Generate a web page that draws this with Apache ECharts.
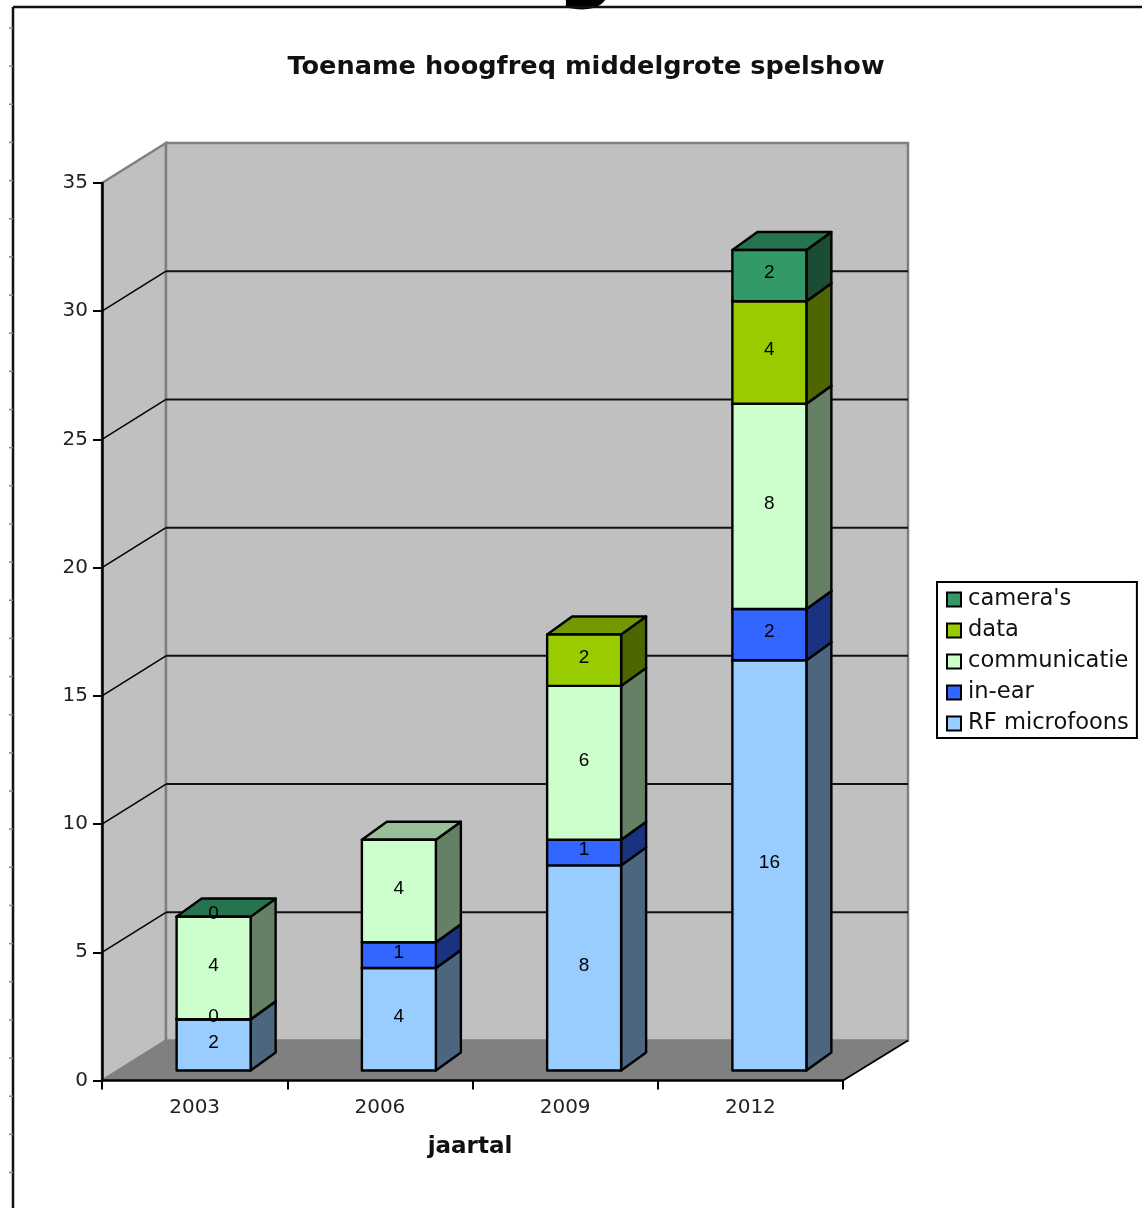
<!DOCTYPE html>
<html>
<head>
<meta charset="utf-8">
<style>html,body{margin:0;padding:0;background:#fff}#c{width:1142px;height:1208px}</style>
<script src="https://cdn.jsdelivr.net/npm/echarts@6/dist/echarts.min.js"></script>
</head>
<body>
<div id="c"></div>
<script>
var categories = ['2003', '2006', '2009', '2012'];
var rfMicrofoons = [2, 4, 8, 16];
var inEar = [0, 1, 1, 2];
var communicatie = [4, 4, 6, 8];
var dataLink = [null, null, 2, 4];
var cameras = [0, null, null, 2];
var yTicks = [0, 5, 10, 15, 20, 25, 30, 35];

var seriesDefs = [
  {name: 'RF microfoons', values: rfMicrofoons, front: '#99CCFF', side: '#4D6680', top: '#7399BF'},
  {name: 'in-ear', values: inEar, front: '#3366FF', side: '#1A3380', top: '#264CBF'},
  {name: 'communicatie', values: communicatie, front: '#CCFFCC', side: '#668066', top: '#99BF99'},
  {name: 'data', values: dataLink, front: '#99CC00', side: '#4D6600', top: '#739900'},
  {name: "camera's", values: cameras, front: '#339966', side: '#1A4D33', top: '#267350'}
];

var FONT = '"DejaVu Sans", sans-serif';
var WALL_DX = 64, WALL_DY = -40;   // wall depth
var BAR_DX = 25, BAR_DY = -18;     // bar depth
var BAR_OFF_X = 19, BAR_OFF_Y = -10, BAR_W = 74;

function wallItem(params, api) {
  var c = params.coordSys, x0 = c.x, x1 = c.x + c.width, yt = c.y, yb = c.y + c.height;
  var dx = WALL_DX, dy = WALL_DY;
  return {type: 'group', children: [
    {type: 'polygon', shape: {points: [[x0, yt], [x0 + dx, yt + dy], [x0 + dx, yb + dy], [x0, yb]]},
      style: {fill: '#C0C0C0', stroke: '#808080', lineWidth: 2.5}},
    {type: 'rect', shape: {x: x0 + dx, y: yt + dy, width: c.width + 1, height: c.height},
      style: {fill: '#C0C0C0', stroke: '#808080', lineWidth: 2.5}},
    {type: 'polygon', shape: {points: [[x0, yb], [x0 + dx, yb + dy], [x1 + dx + 1, yb + dy], [x1, yb]]},
      style: {fill: '#808080'}},
    {type: 'line', shape: {x1: x1, y1: yb, x2: x1 + dx + 1, y2: yb + dy}, style: {stroke: '#000', lineWidth: 1.8}}
  ]};
}

function gridItem(params, api) {
  var v = api.value(0), c = params.coordSys, p = api.coord([0, v]);
  var x0 = c.x, y = p[1];
  return {type: 'group', children: [
    {type: 'line', shape: {x1: x0, y1: y, x2: x0 + WALL_DX, y2: y + WALL_DY}, style: {stroke: '#000', lineWidth: 1.5}},
    {type: 'line', shape: {x1: x0 + WALL_DX, y1: y + WALL_DY, x2: x0 + WALL_DX + c.width + 1, y2: y + WALL_DY}, style: {stroke: '#111', lineWidth: 2}}
  ]};
}

function barItem(def) {
  return function (params, api) {
    var cat = api.value(0), lo = api.value(1), hi = api.value(2);
    var pl = api.coord([cat, lo]), ph = api.coord([cat, hi]);
    var cx = pl[0] + BAR_OFF_X;
    var x0 = cx - BAR_W / 2, x1 = cx + BAR_W / 2;
    var yb = pl[1] + BAR_OFF_Y, yt = ph[1] + BAR_OFF_Y;
    function s(fill) { return {fill: fill, stroke: '#000', lineWidth: 2.4, lineJoin: 'round'}; }
    return {type: 'group', children: [
      {type: 'polygon', shape: {points: [[x1, yb], [x1 + BAR_DX, yb + BAR_DY], [x1 + BAR_DX, yt + BAR_DY], [x1, yt]]}, style: s(def.side)},
      {type: 'polygon', shape: {points: [[x0, yt], [x0 + BAR_DX, yt + BAR_DY], [x1 + BAR_DX, yt + BAR_DY], [x1, yt]]}, style: s(def.top)},
      {type: 'rect', shape: {x: x0, y: yt, width: BAR_W, height: yb - yt}, style: s(def.front)},
      {type: 'text', z2: 5, style: {text: String(hi - lo), x: cx, y: (yb + yt) / 2 - 2.5, align: 'center', verticalAlign: 'middle',
        font: '19px "Liberation Sans", sans-serif', fill: '#000'}}
    ]};
  };
}

var base = categories.map(function () { return 0; });
var barSeries = seriesDefs.map(function (def) {
  var rows = [];
  def.values.forEach(function (v, i) {
    if (v === null) return;
    rows.push([i, base[i], base[i] + v]);
    base[i] += v;
  });
  return {
    type: 'custom', name: def.name, z: 2, data: rows,
    encode: {x: 0, y: [1, 2]},
    itemStyle: {color: def.front},
    renderItem: barItem(def)
  };
});

var edgeTicks = [];
for (var k = 0; k < 31; k++) edgeTicks.push({type: 'line', silent: true,
  shape: {x1: 9, y1: 28 + k * 38.15, x2: 13, y2: 28 + k * 38.15}, style: {stroke: '#888', lineWidth: 1.5}});

var option = {
  animation: false,
  backgroundColor: '#fff',
  textStyle: {fontFamily: FONT},
  title: {
    text: 'Toename hoogfreq middelgrote spelshow',
    left: 581, top: 49, textAlign: 'center',
    textStyle: {fontFamily: FONT, fontWeight: 'bold', fontSize: 25.6, color: '#111'}
  },
  legend: {
    orient: 'vertical', left: 937, top: 582, padding: [6, 8, 3, 9],
    backgroundColor: '#fff', borderColor: '#000', borderWidth: 2, borderRadius: 0,
    itemWidth: 14, itemHeight: 14, itemGap: 8, icon: 'rect',
    itemStyle: {borderColor: '#000', borderWidth: 2},
    textStyle: {fontFamily: FONT, fontSize: 22.6, color: '#111', padding: [0, 0, 0, 2]},
    data: ["camera's", 'data', 'communicatie', 'in-ear', 'RF microfoons']
  },
  grid: {left: 102, top: 183, width: 741, height: 897.5},
  xAxis: {
    type: 'category', data: categories, z: 3,
    name: 'jaartal', nameLocation: 'middle', nameGap: 55,
    nameTextStyle: {fontFamily: FONT, fontWeight: 'bold', fontSize: 23, color: '#111', padding: [0, 5, 0, 0]},
    axisLine: {lineStyle: {color: '#000', width: 2.5}},
    axisTick: {show: true, alignWithLabel: false, length: 9, lineStyle: {color: '#000', width: 2}},
    axisLabel: {fontFamily: FONT, fontSize: 20, color: '#222', margin: 17},
    splitLine: {show: false}
  },
  yAxis: {
    type: 'value', min: 0, max: 35, interval: 5, z: 3,
    axisLine: {show: true, lineStyle: {color: '#000', width: 2.5}},
    axisTick: {show: true, length: 9, lineStyle: {color: '#000', width: 2}},
    axisLabel: {fontFamily: FONT, fontSize: 20, color: '#222', margin: 14},
    splitLine: {show: false}
  },
  graphic: [
    {type: 'text', silent: true, x: 586, y: -70, style: {text: 'g', align: 'center', verticalAlign: 'top', font: 'bold 82px ' + FONT, fill: '#000'}},
    {type: 'line', silent: true, shape: {x1: 13, y1: 7, x2: 1142, y2: 7}, style: {stroke: '#111', lineWidth: 2.5}},
    {type: 'line', silent: true, shape: {x1: 13, y1: 7, x2: 13, y2: 1208}, style: {stroke: '#111', lineWidth: 2.5}}
  ].concat(edgeTicks),
  series: [
    {type: 'custom', name: 'wand', z: 1, silent: true, data: [[0]], encode: {x: 0, y: -1}, renderItem: wallItem},
    {type: 'custom', name: 'raster', z: 1, silent: true, data: yTicks.filter(function (v) { return v > 0 && v < 35; }).map(function (v) { return [v]; }),
      encode: {y: 0, x: -1}, renderItem: gridItem}
  ].concat(barSeries)
};

var chart = echarts.init(document.getElementById('c'), null, {renderer: 'canvas'});
chart.setOption(option);
</script>
</body>
</html>
